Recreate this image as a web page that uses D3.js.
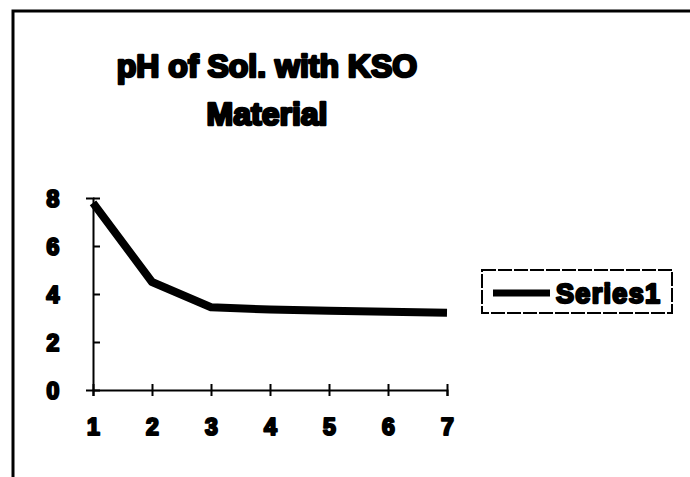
<!DOCTYPE html>
<meta charset="utf-8">
<head>
    <script src="https://d3js.org/d3.v7.min.js"></script>
    <style>
        body { margin: 0; background: white; }
        text { font-family: "Liberation Sans", Arial, sans-serif; font-weight: bold; fill: #000; }
        .heavy { stroke: #000; stroke-linejoin: round; }
    </style>
</head>
<body>
<div id="chart"></div>
<script>
    // data
    var xValues = [1, 2, 3, 4, 5, 6, 7];
    var phValues = [7.8, 4.5, 3.45, 3.35, 3.3, 3.26, 3.22];
    var yTicks = [0, 2, 4, 6, 8];
    var titleLines = ["pH of Sol. with KSO", "Material"];
    var seriesName = "Series1";

    var W = 690, H = 477;

    var svg = d3.select("#chart").append("svg")
        .attr("width", W)
        .attr("height", H);

    svg.append("rect").attr("width", W).attr("height", H).attr("fill", "white");

    // outer frame (only top and left edges are in view)
    svg.append("path")
        .attr("d", "M13," + H + " V11 H" + W)
        .attr("fill", "none")
        .attr("stroke", "#000")
        .attr("stroke-width", 3);

    // title
    svg.append("g").selectAll("text")
        .data(titleLines)
        .enter().append("text")
        .attr("class", "heavy")
        .attr("x", 267)
        .attr("y", function(d, i) { return 77 + i * 48; })
        .attr("text-anchor", "middle")
        .attr("font-size", 32)
        .attr("stroke-width", 2.6)
        .text(function(d) { return d; });

    // scales
    var x = d3.scaleLinear().domain([1, 7]).range([93, 447]);
    var y = d3.scaleLinear().domain([0, 8]).range([390, 198]);

    // y axis
    var yAxis = svg.append("g")
        .attr("transform", "translate(" + x(1) + ",0)")
        .call(d3.axisLeft(y).tickValues(yTicks).tickSize(7).tickPadding(30));
    yAxis.select(".domain").attr("stroke-width", 2);
    yAxis.selectAll(".tick line").attr("x2", 7).attr("stroke-width", 2);
    yAxis.selectAll(".tick text")
        .attr("class", "heavy")
        .attr("stroke-width", 2.2)
        .attr("font-size", 23)
        .attr("text-anchor", "middle")
        .attr("x", -40)
        .attr("dy", "0.36em");

    // x axis
    var xAxis = svg.append("g")
        .attr("transform", "translate(0," + y(0) + ")")
        .call(d3.axisBottom(x).tickValues(xValues).tickFormat(d3.format("d")).tickSize(6).tickPadding(30));
    xAxis.select(".domain").attr("stroke-width", 2);
    xAxis.selectAll(".tick line").attr("y1", -6).attr("stroke-width", 2);
    xAxis.selectAll(".tick text")
        .attr("class", "heavy")
        .attr("stroke-width", 2.2)
        .attr("font-size", 23)
        .attr("dy", "0.4em");
    svg.selectAll(".domain, .tick line").attr("stroke", "#000");

    // the series line
    var line = d3.line()
        .x(function(d, i) { return x(xValues[i]); })
        .y(function(d) { return y(d); });

    svg.append("path")
        .datum(phValues)
        .attr("d", line)
        .attr("fill", "none")
        .attr("stroke", "#000")
        .attr("stroke-width", 8)
        .attr("stroke-linejoin", "round");

    // legend
    var legend = svg.append("g");
    legend.append("rect")
        .attr("x", 482).attr("y", 270)
        .attr("width", 190).attr("height", 43)
        .attr("fill", "none")
        .attr("stroke", "#000")
        .attr("stroke-width", 2)
        .attr("stroke-dasharray", "14,2");
    legend.append("line")
        .attr("x1", 493).attr("x2", 550)
        .attr("y1", 293).attr("y2", 293)
        .attr("stroke", "#000")
        .attr("stroke-width", 7);
    legend.append("text")
        .attr("class", "heavy")
        .attr("x", 556).attr("y", 303)
        .attr("font-size", 27)
        .attr("stroke-width", 2.4)
        .attr("textLength", 104)
        .text(seriesName);
</script>
</body>
